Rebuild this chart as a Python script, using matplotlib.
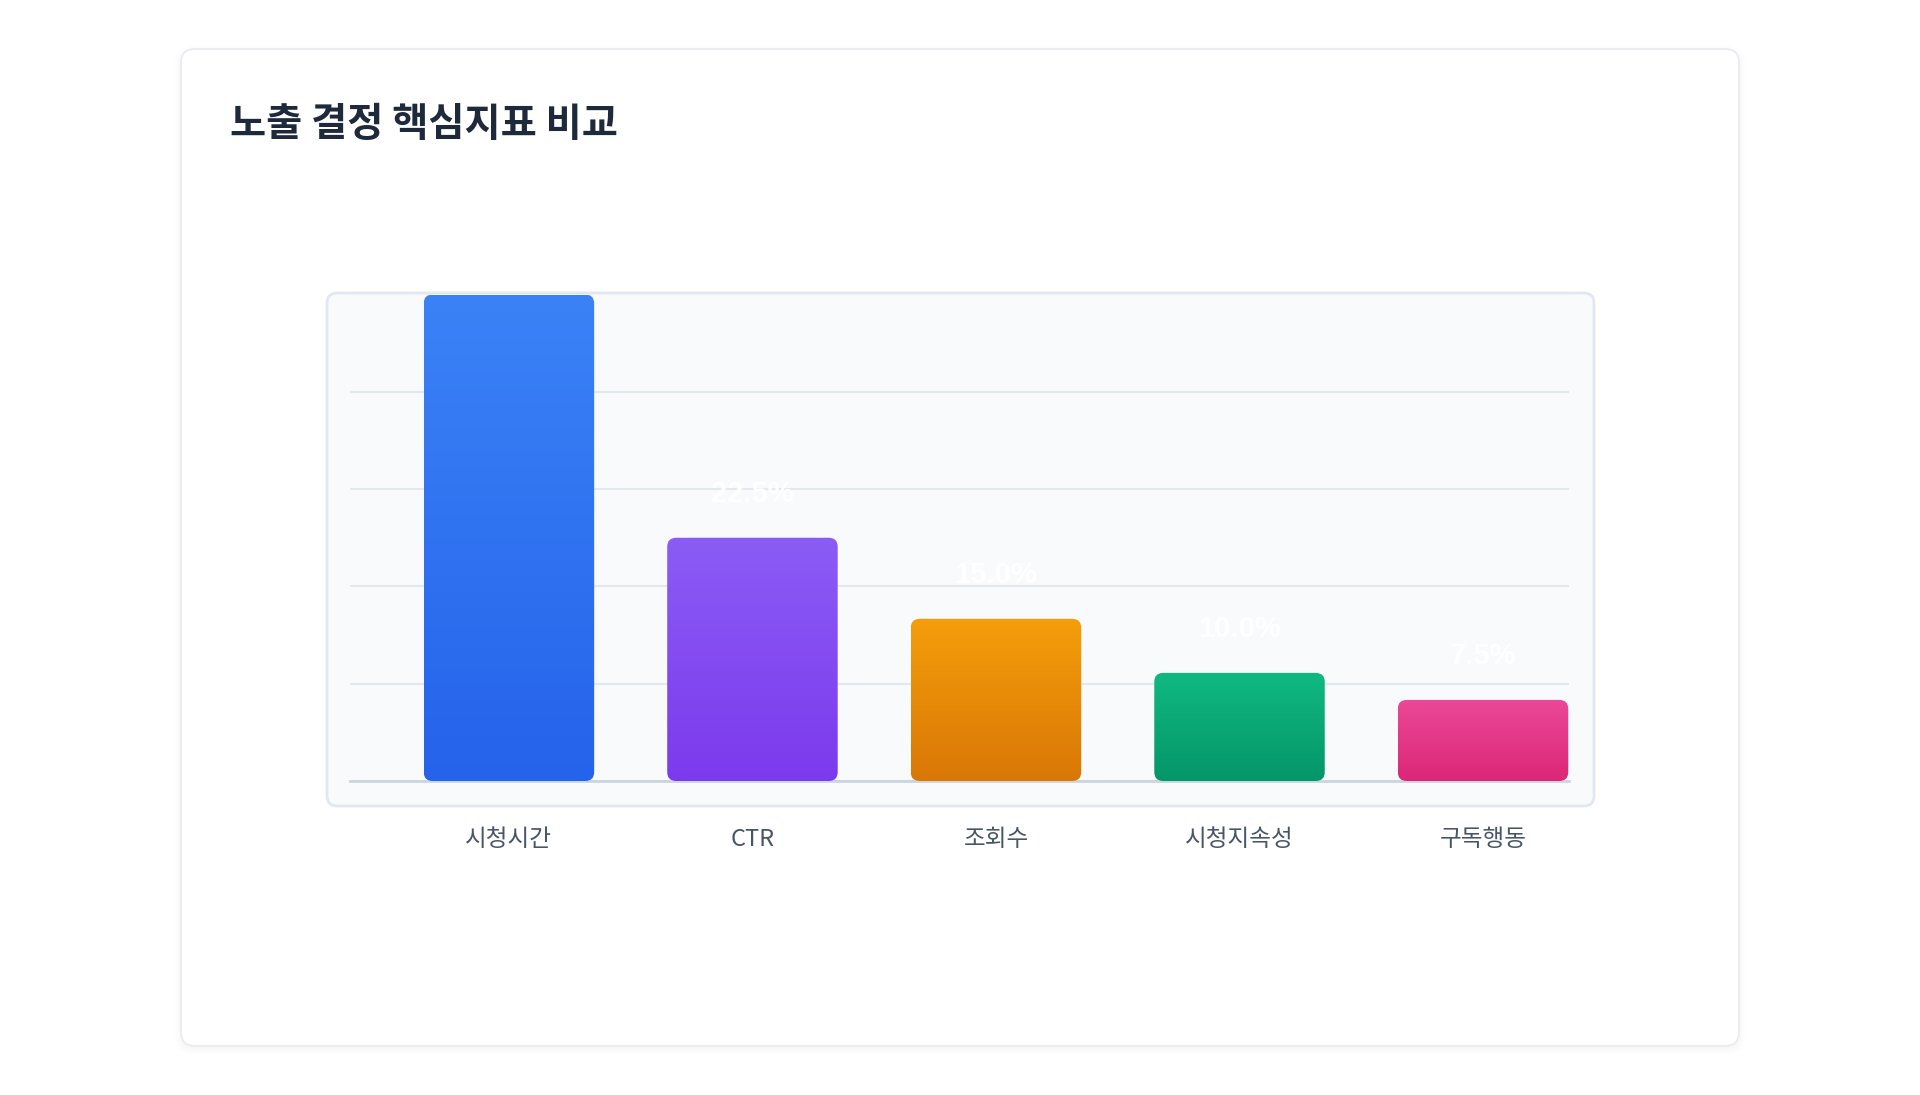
import numpy as np
import matplotlib
matplotlib.use("Agg")
import matplotlib.pyplot as plt
from matplotlib.patches import FancyBboxPatch
from matplotlib.colors import LinearSegmentedColormap

plt.rcParams['font.family'] = ['Noto Sans CJK KR', 'DejaVu Sans']

title = "노출 결정 핵심지표 비교"
categories = ["시청시간", "CTR", "조회수", "시청지속성", "구독행동"]
values = [45.0, 22.5, 15.0, 10.0, 7.5]
top_colors = ["#3b82f6", "#8b5cf6", "#f59e0b", "#10b981", "#ec4899"]
bottom_colors = ["#2563eb", "#7c3aed", "#d97706", "#059669", "#db2777"]
y_max = 45

W, H = 1920, 1095
fig = plt.figure(figsize=(W / 100, H / 100), dpi=100)
fig.patch.set_facecolor("white")

# background layer in pixel coordinates (card, panel, title)
bg = fig.add_axes([0, 0, 1, 1])
bg.set_xlim(0, W)
bg.set_ylim(H, 0)
bg.axis("off")


def rbox(ax, x0, y0, x1, y1, r, **kw):
    p = FancyBboxPatch((x0, y0), x1 - x0, y1 - y0,
                       boxstyle=f"round,pad=0,rounding_size={r}", **kw)
    ax.add_patch(p)
    return p


# soft shadow under the card
for i in range(8):
    rbox(bg, 181 - i, 50 - i + 2, 1739 + i, 1046 + i + 2, 14 + i,
         fc=(0.06, 0.09, 0.16, 0.005), ec="none")
rbox(bg, 181, 49, 1739, 1046, 14, fc="white", ec="#e8ebef", lw=1.2)
rbox(bg, 327, 293, 1594, 806, 10, fc="#f8fafc", ec="#e2e8f0", lw=2)

bg.text(230, 125, title, fontsize=28.3, fontweight="bold", color="#1e293b",
        va="center", ha="left")

# chart axes
x0_px, x1_px, y0_px, y1_px = 350.4, 1569, 294.5, 781
ax = fig.add_axes([x0_px / W, (H - y1_px) / H, (x1_px - x0_px) / W, (y1_px - y0_px) / H])
ax.patch.set_alpha(0)
for s in ax.spines.values():
    s.set_visible(False)
xlim = (-0.651, 4.353)
ax.set_xlim(*xlim)
ax.set_ylim(0, y_max)
ax.set_yticks(np.arange(0, y_max + 1, 9))
ax.yaxis.grid(True, color="#e2e8f0", lw=1.5)
ax.set_axisbelow(True)
ax.tick_params(axis="y", left=False, labelleft=False)
ax.axhline(0, color="#cbd5e1", lw=2, zorder=1.5, clip_on=False)

x = np.arange(len(categories))
bars = ax.bar(x, values, width=0.7, color="none", edgecolor="none")

p0 = ax.transData.transform((0, 0))
p1 = ax.transData.transform((1, 1))
sx, sy = p1[0] - p0[0], p1[1] - p0[1]
r_px = 9
grad = np.linspace(0, 1, 256).reshape(-1, 1)

for bar, v, ct, cb in zip(bars, values, top_colors, bottom_colors):
    bx, by, bw, bh = bar.get_x(), bar.get_y(), bar.get_width(), bar.get_height()
    patch = FancyBboxPatch((bx, by), bw, bh,
                           boxstyle=f"round,pad=0,rounding_size={r_px / sx}",
                           mutation_aspect=sx / sy, fc="none", ec="none")
    ax.add_patch(patch)
    cmap = LinearSegmentedColormap.from_list("g", [cb, ct])
    im = ax.imshow(grad, extent=[bx, bx + bw, by, by + bh], origin="lower",
                   cmap=cmap, aspect="auto", zorder=2)
    im.set_clip_path(patch)
    ax.annotate(f"{v:.1f}%", (bx + bw / 2, v), xytext=(0, 44 * 0.72),
                textcoords="offset points", ha="center", va="center",
                color="white", fontsize=21, fontweight="bold",
                family=["Liberation Sans", "DejaVu Sans"],
                annotation_clip=False, zorder=5)

ax.set_xlim(*xlim)
ax.set_ylim(0, y_max)
ax.set_xticks(x, categories)
ax.tick_params(axis="x", length=0, pad=34, labelsize=17, labelcolor="#475569")

fig.savefig("out.png", dpi=100, facecolor="white")
